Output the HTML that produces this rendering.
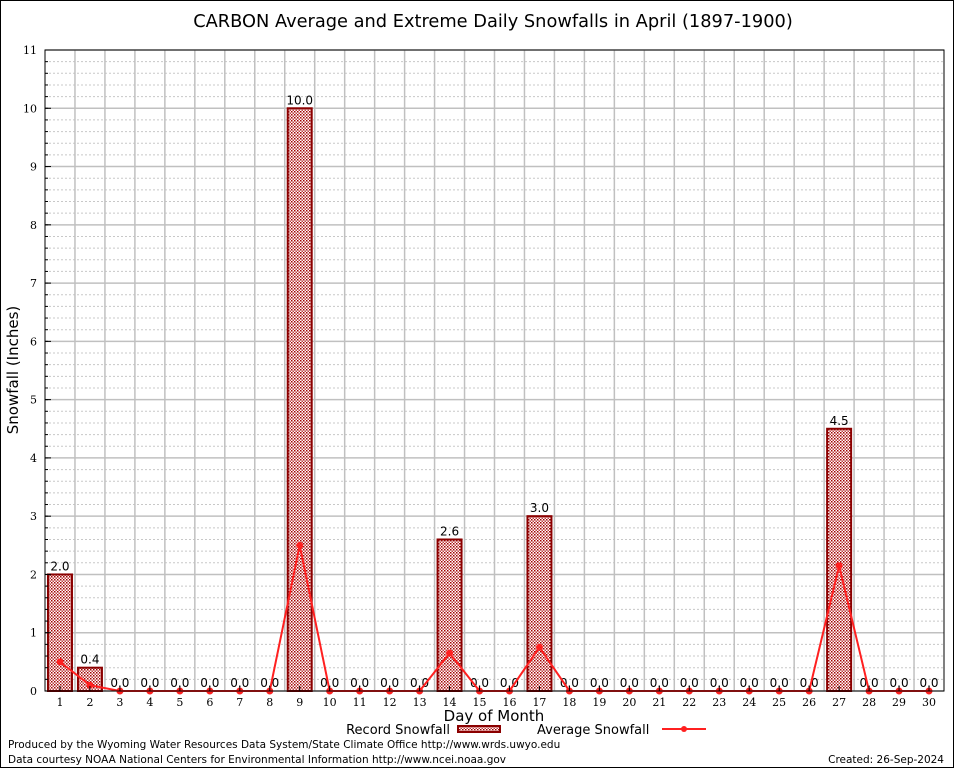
<!DOCTYPE html>
<html><head><meta charset="utf-8"><style>
body{margin:0;background:#fff}
svg{display:block}
text{font-family:"DejaVu Sans","Liberation Sans",sans-serif}
.tk{font-family:"DejaVu Serif","Liberation Serif",serif;font-size:11px}
</style></head><body>
<svg id="c" width="954" height="768" xmlns="http://www.w3.org/2000/svg">
<defs>
<pattern id="chk" width="3" height="3" patternUnits="userSpaceOnUse">
<rect width="3" height="3" fill="#fff"/>
<rect width="1.5" height="1.5" fill="#a00000"/><rect x="1.5" y="1.5" width="1.5" height="1.5" fill="#c04040"/>
</pattern>
</defs>
<rect x="0.5" y="0.5" width="953" height="767" fill="#fff" stroke="#000"/>
<text x="493" y="27" font-size="17.8" text-anchor="middle">CARBON Average and Extreme Daily Snowfalls in April (1897-1900)</text>
<g id="grid"></g>
<g id="bars"></g>
<g id="avg"></g>
<g id="axes"></g>
<text x="18" y="370" font-size="15" text-anchor="middle" transform="rotate(-90 18 370)">Snowfall (Inches)</text>
<text x="494" y="721" font-size="15" text-anchor="middle">Day of Month</text>
<g>
<text x="450" y="734" font-size="13" text-anchor="end">Record Snowfall</text>
<rect x="458" y="726" width="42" height="6" fill="url(#chk)" stroke="#8b0000" stroke-width="2"/>
<text x="537" y="734" font-size="13">Average Snowfall</text>
<line x1="662" y1="729" x2="706" y2="729" stroke="#ff2020" stroke-width="2"/>
<circle cx="684" cy="729" r="3" fill="#ff2020"/>
</g>
<text x="8" y="748" font-size="10.5">Produced by the Wyoming Water Resources Data System/State Climate Office http://www.wrds.uwyo.edu</text>
<text x="8" y="763" font-size="10.5">Data courtesy NOAA National Centers for Environmental Information http://www.ncei.noaa.gov</text>
<text x="944" y="763" font-size="10.5" text-anchor="end">Created:  26-Sep-2024</text>
</svg>
<script>
const days=[1,2,3,4,5,6,7,8,9,10,11,12,13,14,15,16,17,18,19,20,21,22,23,24,25,26,27,28,29,30];
const recordVals=[2.0,0.4,0,0,0,0,0,0,10.0,0,0,0,0,2.6,0,0,3.0,0,0,0,0,0,0,0,0,0,4.5,0,0,0];
const avgVals=[0.5,0.1,0,0,0,0,0,0,2.5,0,0,0,0,0.65,0,0,0.75,0,0,0,0,0,0,0,0,0,2.15,0,0,0];
const yTicks=[0,1,2,3,4,5,6,7,8,9,10,11];
const L=45,R=944,T=50,B=691,NS="http://www.w3.org/2000/svg";
const X=d=>L+(d-0.5)*(R-L)/30;
const Y=v=>B-v*(B-T)/11;
function mk(t,a,p){const e=document.createElementNS(NS,t);for(const k in a)e.setAttribute(k,a[k]);p.appendChild(e);return e;}
const g=document.getElementById('grid');
for(let v=0;v<=11.001;v+=0.2){const maj=Math.abs(v-Math.round(v))<0.01;
const l=mk('line',{x1:L,x2:R,y1:Y(v),y2:Y(v),stroke:maj?'#c0c0c0':'#c8c8c8','stroke-width':maj?1.5:1,'stroke-dasharray':maj?'':'2,2'},g);

}
for(let i=1;i<30;i++){const l=mk('line',{x1:L+i*(R-L)/30,x2:L+i*(R-L)/30,y1:T,y2:B,stroke:'#c0c0c0','stroke-width':1.5},g);

}
const bg=document.getElementById('bars');
days.forEach((d,i)=>{const v=recordVals[i];
if(v>0){const r=mk('rect',{x:X(d)-12,y:Y(v),width:24,height:Y(0)-Y(v),fill:'url(#chk)',stroke:'#8b0000','stroke-width':2},bg);

}
const t=mk('text',{x:X(d),y:Y(v)-4,'font-size':12,'text-anchor':'middle'},bg);t.textContent=v.toFixed(1);

});
const ag=document.getElementById('avg');
const pl=mk('polyline',{points:days.map((d,i)=>X(d)+','+Y(avgVals[i])).join(' '),fill:'none',stroke:'#ff2020','stroke-width':2},ag);


days.forEach((d,i)=>{const c=mk('circle',{cx:X(d),cy:Y(avgVals[i]),r:3.5,fill:'#ff2020'},ag);

});
const ax=document.getElementById('axes');
const fr=mk('rect',{x:L,y:T,width:R-L,height:B-T,fill:'none',stroke:'#000','stroke-width':1},ax);


yTicks.forEach(v=>{const t=mk('text',{x:L-8,y:Y(v)+4,'text-anchor':'end',class:'tk'},ax);t.textContent=v;


mk('line',{x1:L,x2:L+6,y1:Y(v),y2:Y(v),stroke:'#000'},ax);});
for(let v=0.2;v<11;v+=0.2)mk('line',{x1:L,x2:L+3,y1:Y(v),y2:Y(v),stroke:'#000'},ax);
days.forEach(d=>{const t=mk('text',{x:X(d),y:B+15,'text-anchor':'middle',class:'tk'},ax);t.textContent=d;


mk('line',{x1:X(d),x2:X(d),y1:B,y2:B-5,stroke:'#000'},ax);});
</script>
</body></html>
